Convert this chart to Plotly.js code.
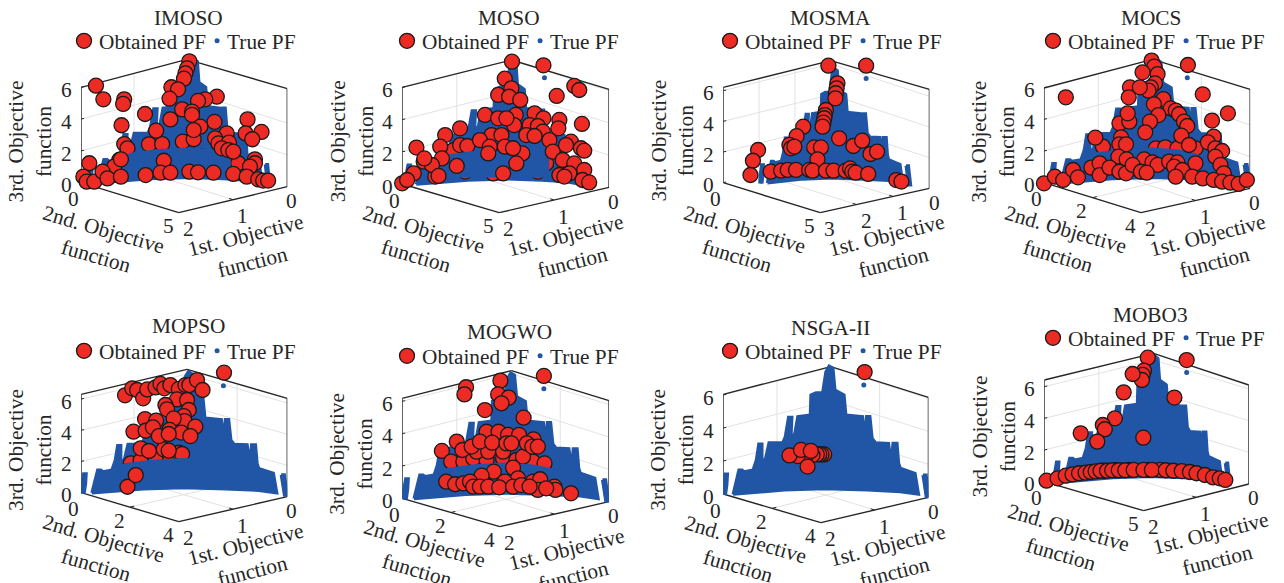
<!DOCTYPE html>
<html>
<head>
<meta charset="utf-8">
<script src="https://cdn.plot.ly/plotly-3.0.1.min.js"></script>
<style>html,body{margin:0;padding:0;background:#fff}</style>
</head>
<body>
<div id="chart" style="width:1284px;height:583px"></div>
<script>
// All obtained points are read in the viewing plane of each 3-D box:
// U runs 0..100 from the left corner to the right corner, V is on the 3rd-objective scale.
const methods = ["IMOSO","MOSO","MOSMA","MOCS","MOPSO","MOGWO","NSGA-II","MOBO3"];
const f1Ticks = [[0,1,2],[0,1,2],[0,1,2,3],[0,1,2],[0,1,2],[0,1,2],[0,1,2],[0,1,2]];
const f2Ticks = [[0,5],[0,5],[0,5],[0,2,4],[0,2,4],[0,2,4],[0,2,4],[0,5]];
const f3Ticks = [0,2,4,6];

const trueU = [-0.5,-0.3,0.8,2.1,1.8,1.1,null,
 4.8,6.5,7.6,9.2,10.2,14.5,16.1,17.3,18.9,18.9,20.5,22.3,29,30.2,31.8,33.5,33.1,34.7,36.3,42.4,42.7,45.2,48.4,50,51.6,53.5,54.5,58.9,59.8,67.9,68.9,69.8,71.5,72.6,74.2,80.6,81.8,82.7,84.7,85.5,86.3,91.1,93.5,95.2,86.3,70.2,49.2,29.8,13.7,4.8,null,
 97.3,98.9,100.3,98.9,97.3];
const trueV = [-0.06,0.44,1.21,1.21,0.55,-0.06,null,
 -0.02,0.85,1.45,1.45,1.35,1.45,2.06,3.03,3.03,2.06,2.1,3.11,3.11,3.47,4.65,4.65,3.58,3.58,4.69,4.79,6,6.14,6.14,7.41,7.76,7.62,6.3,6,4.79,4.69,3.37,4.69,4.69,3.37,3.11,3.07,1.86,3.07,3.07,1.86,1.56,1.35,1.25,-0.02,0.14,0.24,0.32,0.24,0.1,-0.02,null,
 1.15,1.15,-0.16,-0.16,1.15];
const bandU = [18,20.8,32.8,48.8,61.6,71.2,74,74,18,18];
const bandV = [1.6,1.79,2,2.12,2.02,1.79,1.6,0.5,0.5,1.6];
const strayU = [null,68.8,69.3,69.5,69,68.5,68.5,69.6];
const strayV = [null,6.6,6.8,6.63,6.86,6.78,6.6,6.9];

const imosoU = [32.9,39.3,49.3,54.6,20.9,22.5,58.6,66.6,76.2,7.2,10.8,20.9,20.4,19.6,52.5,51.4,50.6,49.9,43.8,47,42.9,65.8,60.2,56.7,31,43.3,49,53.8,53.8,64.7,57.8,54.6,36.4,80.7,79.8,87.5,83,70.6,65,66.6,71.7,68.2,71.4,73.8,18.5,16.1,19.3,40.1,84.3,84.3,81.9,4,1.1,-0.8,2.7,6.4,10.4,12.8,19.3,31.3,38.5,43.3,52.5,56.7,64.2,73.8,80.3,85.9,88.3,90.7];
const imosoV = [2.41,2.43,2.58,2.73,2.43,2.16,1.64,1.22,1.22,6.1,5.24,5.24,4.95,3.61,7.63,7.19,6.88,6.54,6,5.87,5.28,5.41,5.24,5.14,4.32,3.98,4.61,4.47,4.26,3.82,3.52,3.31,3.27,3.98,3.1,3.19,2.73,3.1,2.79,2.47,2.52,2.16,2.05,1.95,1.43,1.01,1.47,1.38,1.47,1.22,1.01,1.22,0.38,-0.08,0.06,0.06,0.69,0.27,0.38,0.48,0.63,0.63,0.69,0.65,0.63,0.55,0.38,0.21,0.13,0.13];
const mosoU = [24.8,28,31.5,52,56,44,16,30.4,69.6,65.6,40,46.4,53.1,49.6,52.8,51.7,57.1,68.3,83.2,85.6,74.7,76,75.5,86.9,64,68.3,54.9,54.1,46.4,50.4,61.6,65.6,68,60,64,71.2,43.2,48,37.6,28,20.8,18.4,6.9,19.2,42.4,49.6,41.6,58.1,53.6,72.8,81.6,79.2,86.4,88,77.6,83.2,88,10.4,14.4,10.7,5.6,0,2.4,80.8,76,78.4,87.2,90.4,17.6,26.4,48.8,55.2];
const mosoV = [2.11,2.42,2.36,1.59,1.33,0.66,0.46,0.77,1.28,0.77,4.29,5.53,7.6,6.54,5.94,5.42,5.22,7.37,6.09,5.84,5.47,3.98,3.46,3.73,4.39,4.08,4.29,3.66,4.08,4.08,3.66,3.6,3.25,3.04,2.98,2.73,3.04,3.04,2.73,3.46,3.04,2.32,2.26,1.59,2.32,2.32,1.9,1.9,2.22,2.01,2.63,2.42,2.22,2.07,1.49,1.28,0.87,1.39,1.18,1.59,0.66,0.04,0.25,0.66,0.56,0.46,0.25,0.1,0.5,1.12,0.66,1.28];
const mosmaU = [51,69.3,55.4,55,54.6,54.4,49.8,49.3,49,48.6,48.2,38.8,35.6,32.1,32.9,34.5,56.2,44.1,47.4,63.1,67.4,71.4,74.6,45.7,16.9,14.4,13.2,23,28.1,31.3,35.3,41.7,43.3,49.8,53.5,59.4,61.5,62.6,64.2,70.3,83.9,86.4];
const mosmaV = [7.63,7.63,6.48,6.15,5.83,5.5,4.74,4.41,4.2,3.91,3.65,3.65,3.04,2.46,2.24,2.35,2.89,2.3,2.3,2.39,2.74,1.87,2.02,1.52,2.13,1.43,0.5,0.72,0.78,0.83,0.83,0.83,0.78,0.78,0.78,0.78,0.93,0.72,0.65,0.57,0.17,0.07];
const mocsU = [54.3,58.8,64.7,73.5,36.6,41.4,28.6,52.2,53.5,47.8,55.1,53.8,51.8,50.7,41.7,46.5,41.1,10.6,69.8,77,89.2,81.5,57.9,53.3,61.5,63.9,65.5,67.9,69.5,55.5,51.4,40.6,49.1,66.6,82.3,79.5,70.3,24.9,37.4,36.6,39.8,83.1,86.4,83.1,36.1,40.1,85.6,87.2,48.6,52.6,55.1,60.7,64.7,73.5,63.1,67.1,71.9,77,82.3,86.4,90.4,94.4,98.4,0,5.3,9.3,14.1,16.5,23,27,27,31.8,36.6,39.8,43,47,49.8,63.9];
const mocsV = [2.17,2.23,2.17,2.17,3.75,3.85,2.27,7.71,7.33,6.97,6.86,6.27,6.02,5.81,6.02,6.02,5.39,5.39,7.43,5.58,4.38,3.92,5.28,4.95,4.69,4.55,4.32,3.85,3.58,4.27,3.85,4.38,3.18,2.97,2.91,2.55,2.38,2.84,2.86,2.42,2.42,2.17,2,1.64,1.64,1.47,1.12,0.59,1.47,1.28,1.12,1.33,1.28,1.22,1.01,0.8,0.38,0.27,0.17,0.06,0,-0.08,0.17,-0.04,0.38,0.17,0.8,0.34,0.95,1.22,0.48,0.95,0.69,0.59,1.12,0.69,0.63,0.38];
const mopsoU = [24.1,28.9,36.1,40.1,43.3,47.4,49,28.9,32.9,22.5,26.5,21.3,24.8,27.2,30.1,32.1,36.1,38.5,40.4,43.3,47.4,50.6,52.5,56.2,58.9,69.3,46.5,51.4,40.9,41.7,52.2,49.8,50.2,44.9,31,36.4,55.4,25.4,31.3,34.8,37.7,42.9,48.6,53,42.5,42.5];
const mopsoV = [1.88,2.05,2.2,2.78,2.31,2.56,2.48,2.84,2.67,0.38,1.13,6.24,6.69,6.58,6.05,6.62,6.75,6.97,6.69,6.9,6.65,6.9,6.9,7.22,6.58,7.69,5.98,5.94,5.62,5.34,5.3,4.91,4.59,4.76,4.72,4.62,4.23,3.91,3.97,4.19,3.63,4.02,3.85,3.63,3.76,2.69];
const mogwoU = [19.2,23.7,29.6,34.4,40.8,48.8,63.2,68.8,55.2,58.4,36,41.6,48.8,30.9,30.1,47.5,46.4,51.5,48,40,58.7,68.5,40.8,46.6,51.2,56.5,63.5,26.4,29.1,33.6,37.6,43.5,50.4,52.8,60.3,62.9,65.6,53.6,44.3,38.4,56,49.6,21.3,25.6,29.6,32.8,34.4,37.6,41.6,46.9,53.6,57.6,63.2,66.7,65.6,61.6,73.6,74.1,81.6,69.6];
const mogwoV = [2.93,2.27,2.27,2.47,2.37,2.47,2.27,2.16,2.37,2.58,2.89,2.89,2.89,6.87,6.43,7.28,6.43,6.23,5.88,5.46,4.99,7.57,4.12,4.12,3.92,3.92,3.65,3.51,2.99,3.2,3.51,3.44,3.4,3.4,3.4,3.2,3.2,1.9,1.65,1.4,1.24,1.03,1.03,0.87,0.93,1.03,0.72,0.72,0.72,0.68,0.72,0.82,1.03,1.18,0.52,0.72,0.72,0.52,0.31,0.62];
const nsgaU = [68.9,49.2,47.9,46.8,45.6,43.5,40.3,36.3,32.3,41.1,37.9,42.7];
const nsgaV = [7.39,2.4,2.4,2.4,2.4,2.36,2.3,2.3,2.34,1.66,2.67,2.61];
const moboU = [34.8,29.1,56.6,51,41.3,1.1,6.5,10.5,13.8,17,20.2,22.7,25.1,27.5,30.7,33.2,36.4,39.6,43.7,48.5,52.6,59.4,63.1,67.2,71.2,74.4,78.5,82.5,85.8,88.5,50.6,69.6,48.7,48.1,47.7,43.2,38.8,63.6,34.5,28.6,29.6,17.8,25.9,48.4];
const moboV = [0.72,0.69,0.74,0.74,0.74,0.06,0.21,0.38,0.46,0.53,0.57,0.61,0.65,0.69,0.69,0.72,0.72,0.72,0.74,0.74,0.74,0.72,0.69,0.67,0.61,0.53,0.42,0.27,0.21,0.11,7.83,7.68,7.01,6.74,6.42,6.8,5.64,5.31,4,3.58,3.31,3.05,2.53,2.78];
const obtainedU = [imosoU,mosoU,mosmaU,mocsU,mopsoU,mogwoU,nsgaU,moboU];
const obtainedV = [imosoV,mosoV,mosmaV,mocsV,mopsoV,mogwoV,nsgaV,moboV];
const rearCount = [9,12,0,7,9,13,0,0];

// ---- layout constants ----
const RED="#ee2a24", BLUE="#2156a6", INK="#262626", GRID="#e2e2e2", FONT="Liberation Serif, Times New Roman, serif", FS=21.3;
const boxes = [
 {ox:0,oy:0,L:245,R:868,b:548,u:47.7,bR:560,tL:262,tR:266,fx:540,fy:638,bx:565,by:178,tx:190,ty:18,ly:41,piv:55,sL:1,sR:.75,vs:1},
 {ox:320,oy:0,L:255,R:880,b:552,u:48.3,bR:562,tL:262,tR:268,fx:548,fy:638,bx:585,by:180,tx:513,ty:18,ly:41,piv:53.6,sL:1,sR:.745,vs:.98},
 {ox:640,oy:0,L:265,R:888,b:548,u:46,bR:565,tL:262,tR:268,fx:558,fy:638,bx:590,by:182,tx:836,ty:18,ly:41,piv:53.9,sL:.695,sR:.76,vs:.96},
 {ox:964,oy:0,L:262,R:885,b:548,u:47.5,bR:565,tL:264,tR:268,fx:555,fy:638,bx:590,by:178,tx:1159,ty:18,ly:41,piv:55,sL:1,sR:.92,vs:1},
 {ox:0,oy:310,L:245,R:868,b:548,u:46.8,bR:560,tL:253,tR:265,fx:540,fy:635,bx:565,by:178,tx:190,ty:326,ly:351,piv:52,sL:1,sR:.985,vs:1},
 {ox:320,oy:310,L:255,R:880,b:565,u:48.5,bR:575,tL:265,tR:272,fx:550,fy:650,bx:585,by:182,tx:513,ty:332,ly:356,piv:52.5,sL:1,sR:.97,vs:1},
 {ox:640,oy:300,L:265,R:885,b:582,u:49.5,bR:592,tL:283,tR:292,fx:560,fy:668,bx:590,by:200,tx:836,ty:328,ly:351,piv:51.6,sL:1,sR:1,vs:1},
 {ox:960,oy:300,L:275,R:893,b:545,u:47.5,bR:552,tL:240,tR:255,fx:575,fy:632,bx:605,by:160,tx:1159,ty:315,ly:338,piv:54.2,sL:.95,sR:.75,vs:1.02}
];
const vMin=-2.6, vMax=8.8;
const traces=[], shapes=[], annotations=[], layout={
 width:1284,height:583,autosize:false,margin:{l:0,r:0,t:0,b:0},paper_bgcolor:"#fff",plot_bgcolor:"rgba(0,0,0,0)",showlegend:true,font:{family:FONT,size:FS,color:INK}
};
methods.forEach((name,i)=>{
 const p=boxes[i], n=i?String(i+1):"", xa="x"+n, ya="y"+n, lg="legend"+n;
 const top=p.oy+(p.b-vMax*p.u)/3, bot=p.oy+(p.b-vMin*p.u)/3;
 layout["xaxis"+n]={domain:[(p.ox+p.L/3)/1284,(p.ox+p.R/3)/1284],range:[0,100],visible:false,fixedrange:true,anchor:ya};
 layout["yaxis"+n]={domain:[1-bot/583,1-top/583],range:[vMin,vMax],visible:false,fixedrange:true,anchor:xa};
 layout[lg]={x:p.tx/1284,y:1-p.ly/583,xanchor:"center",yanchor:"middle",orientation:"h",bgcolor:"rgba(0,0,0,0)",font:{family:FONT,size:FS,color:INK},itemclick:false,itemdoubleclick:false,borderwidth:0};
 const U=x=>(x-p.L)/(p.R-p.L)*100, V=y=>(p.b-y)/p.u;
 const seg=(a,b,color,w)=>shapes.push({type:"line",xref:xa,yref:ya,layer:"below",x0:U(a[0]),y0:V(a[1]),x1:U(b[0]),y1:V(b[1]),line:{color:color,width:w}});
 const mix=(a,b,s)=>[a[0]+(b[0]-a[0])*s,a[1]+(b[1]-a[1])*s];
 const LB=[p.L,p.b],LT=[p.L,p.tL],RB=[p.R,p.bR],RT=[p.R,p.tR],F=[p.fx,p.fy],BT=[p.bx,p.by],H=p.b-p.tL,BB=[p.bx,p.by+H];
 const up=(q,h)=>[q[0],q[1]-h];
 const paperAnn=(x,y,text,angle)=>annotations.push({xref:"paper",yref:"paper",x:x/1284,y:1-y/583,text:text,textangle:angle,showarrow:false,xanchor:"center",yanchor:"middle",font:{family:FONT,size:FS,color:INK}});
 const label=(q,text)=>paperAnn(p.ox+q[0]/3,p.oy+q[1]/3,text,0);
 f3Ticks.forEach(t=>{const h=t*p.u; if(t>0&&h<=H){seg(up(LB,h),up(BB,h),GRID,1);seg(up(BB,h),up(RB,h),GRID,1);}
   seg(up(LB,h),[p.L+9,p.b-h-2],INK,1);
   label([p.L-45,p.b-h+8],String(t));});
 const f1Max=f1Ticks[i][f1Ticks[i].length-1], f2Max=f2Ticks[i][f2Ticks[i].length-1];
 f1Ticks[i].forEach(t=>{const s=t/f1Max,A=mix(RB,F,s),B=mix(BB,LB,s);
   if(t>0&&t<f1Max){seg(A,B,GRID,1);seg(B,up(B,H),GRID,1);seg(A,mix(A,B,.04),INK,1);}
   label(t===0?[A[0]+14,A[1]+43]:[A[0]+29,A[1]+50],String(t));});
 f2Ticks[i].forEach(t=>{const s=t/f2Max,A=mix(LB,F,s),B=mix(BB,RB,s);
   if(t>0&&t<f2Max){seg(A,B,GRID,1);seg(B,up(B,H),GRID,1);seg(A,mix(A,B,.04),INK,1);}
   label(t===0?[A[0]-24,A[1]+50]:[A[0]-32,A[1]+41],String(t));});
 [[LB,F],[F,RB],[LB,LT],[RB,RT],[LT,BT],[BT,RT]].forEach(e=>seg(e[0],e[1],INK,1.4));
 paperAnn(p.tx,p.ty,name,0);
 paperAnn(p.ox+(p.L-153)/3,p.oy+((p.b+p.tL)/2+18)/3,"3rd. Objective<br>function",-90);
 paperAnn(p.ox+(p.fx-240)/3,p.oy+(p.fy+92)/3,"2nd. Objective<br>function",16);
 paperAnn(p.ox+(p.fx+212)/3,p.oy+(p.fy+110)/3,"1st. Objective<br>function",-14);
 const fitU=u=>u===null?null:p.piv+(u-51.6)*(u<51.6?p.sL:p.sR);
 const fitV=v=>v===null?null:v*p.vs;
 const blue={type:"scatter",mode:"lines",fill:"toself",fillcolor:BLUE,line:{color:BLUE,width:3},xaxis:xa,yaxis:ya,hoverinfo:"skip",showlegend:false,connectgaps:false,cliponaxis:false};
 traces.push(Object.assign({},blue,{name:"True PF",x:trueU.map(fitU),y:trueV.map(fitV)}));
 const k=rearCount[i], U0=obtainedU[i], V0=obtainedV[i];
 const red={type:"scatter",mode:"markers",name:"Obtained PF",xaxis:xa,yaxis:ya,cliponaxis:false,legend:lg,
   marker:{size:15,color:RED,line:{color:"#1a1a1a",width:1.3}}};
 if(k>0){
   traces.push(Object.assign({},red,{x:U0.slice(0,k),y:V0.slice(0,k),showlegend:false}));
   traces.push(Object.assign({},blue,{name:"True PF",x:bandU.map(fitU),y:bandV.map(fitV)}));
 }
 traces.push(Object.assign({},red,{x:U0.slice(k),y:V0.slice(k),showlegend:true}));
 traces.push({type:"scatter",mode:"markers",name:"True PF",x:[strayU[i]],y:[strayV[i]],xaxis:xa,yaxis:ya,cliponaxis:false,legend:lg,showlegend:true,marker:{size:5,color:BLUE}});
});
layout.shapes=shapes; layout.annotations=annotations;
// Tighten the legend rows to the reference's spacing once Plotly has laid them out.
function tightenLegends(){
 const gd=document.getElementById("chart");
 methods.forEach((m,i)=>{
  const cls="legend"+(i?String(i+1):"");
  const g=Array.from(gd.querySelectorAll(".infolayer > g")).find(e=>e.getAttribute("class")===cls);
  if(!g) return;
  const items=Array.from(g.querySelectorAll("g.traces"));
  const texts=items.map(it=>it.querySelector("text"));
  if(items.length<2||!texts[0]||!texts[1]) return;
  const sym0=20, text0=sym0+15, w0=texts[0].getComputedTextLength();
  texts[0].setAttribute("x",text0);
  const y1=(items[1].getAttribute("transform").match(/,\s*([-\d.]+)\)/)||[0,0])[1];
  items[1].setAttribute("transform","translate("+(text0+w0+11-sym0)+","+y1+")");
  texts[1].setAttribute("x",sym0+10);
  const lgY=(g.getAttribute("transform").match(/,\s*([-\d.]+)\)/)||[0,0])[1];
  g.setAttribute("transform","translate("+(boxes[i].tx-106-sym0)+","+lgY+")");
 });
}
const gdMain=document.getElementById("chart");
Plotly.newPlot(gdMain,traces,layout,{displayModeBar:false,staticPlot:true}).then(()=>{
  tightenLegends(); [30,120,400].forEach(ms=>setTimeout(tightenLegends,ms));
});
</script>
</body>
</html>
